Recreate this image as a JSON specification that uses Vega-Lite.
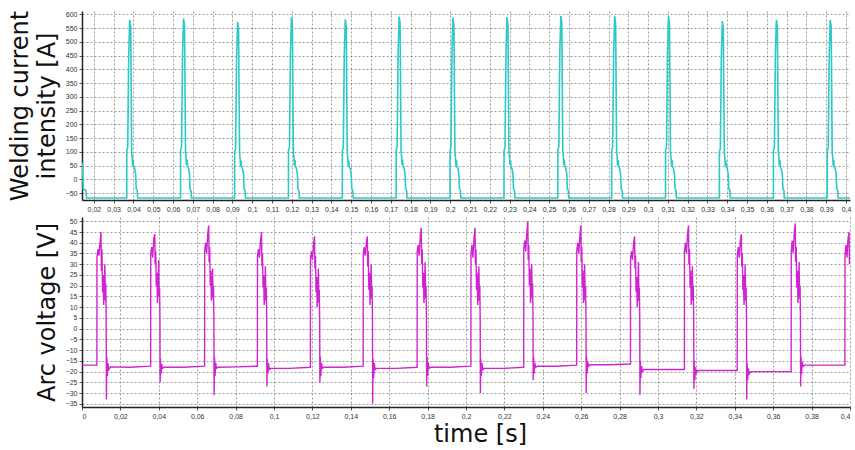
{
  "$schema": "https://vega.github.io/schema/vega-lite/v6.json",
  "background": "white",
  "padding": {"left": 8, "top": 10, "right": 4, "bottom": 2},
  "spacing": 5,
  "config": {
    "view": {"stroke": null},
    "axis": {
      "labelFont": "Liberation Sans", "labelFontSize": 7, "labelColor": "#333",
      "tickSize": 3, "tickColor": "#555", "labelPadding": 2,
      "domainColor": "#222", "domainWidth": 1.5,
      "gridColor": "#666", "gridDash": [2, 2], "gridOpacity": 0.8, "gridWidth": 0.8,
      "titleFont": "DejaVu Sans", "titleFontSize": 24, "titleFontWeight": "normal", "titleColor": "#111"
    }
  },
  "vconcat": [
    {
      "width": 768, "height": 189,
      "data": {"name": "cur"},
      "mark": {"type": "line", "color": "#2cc9c9", "strokeWidth": 1.6, "clip": true},
      "encoding": {
        "x": {"field": "t", "type": "quantitative",
          "scale": {"domain": [0.014, 0.402], "nice": false, "zero": false},
          "axis": {"title": null, "grid": true,
            "values": [0.02,0.03,0.04,0.05,0.06,0.07,0.08,0.09,0.1,0.11,0.12,0.13,0.14,0.15,0.16,0.17,0.18,0.19,0.2,0.21,0.22,0.23,0.24,0.25,0.26,0.27,0.28,0.29,0.3,0.31,0.32,0.33,0.34,0.35,0.36,0.37,0.38,0.39,0.4],
            "labelExpr": "replace(format(datum.value, '.2~f'), '.', ',')"}},
        "y": {"field": "v", "type": "quantitative",
          "scale": {"domain": [-75, 612], "nice": false},
          "axis": {"title": ["Welding current", "intensity [A]"], "titlePadding": 6, "titleLineHeight": 27, "grid": true,
            "values": [-50,0,50,100,150,200,250,300,350,400,450,500,550,600]}}
      }
    },
    {
      "width": 768, "height": 190,
      "data": {"name": "volt"},
      "mark": {"type": "line", "color": "#d024d0", "strokeWidth": 1.4, "clip": true},
      "encoding": {
        "x": {"field": "t", "type": "quantitative",
          "scale": {"domain": [0, 0.4], "nice": false, "zero": false},
          "axis": {"title": "time [s]", "titlePadding": 3, "titleX": 398, "grid": true,
            "values": [0,0.02,0.04,0.06,0.08,0.1,0.12,0.14,0.16,0.18,0.2,0.22,0.24,0.26,0.28,0.3,0.32,0.34,0.36,0.38,0.4],
            "labelExpr": "replace(format(datum.value, '.2~f'), '.', ',')"}},
        "y": {"field": "v", "type": "quantitative",
          "scale": {"domain": [-36.5, 52], "nice": false},
          "axis": {"title": "Arc voltage [V]", "titlePadding": 6, "grid": true,
            "values": [-35,-30,-25,-20,-15,-10,-5,0,5,10,15,20,25,30,35,40,45,50]}}
      }
    }
  ],
  "datasets": {
    "cur": [
      {"t":0.0140,"v":60},{"t":0.0143,"v":52},{"t":0.0146,"v":-35},{"t":0.0160,"v":-40},{"t":0.0163,"v":-68},
      {"t":0.03660,"v":-68},{"t":0.03662,"v":105},{"t":0.03710,"v":115},{"t":0.03760,"v":450},{"t":0.03810,"v":580},{"t":0.03860,"v":555},{"t":0.03910,"v":100},{"t":0.03940,"v":75},{"t":0.03960,"v":50},{"t":0.03990,"v":70},{"t":0.04010,"v":45},{"t":0.04060,"v":40},{"t":0.04110,"v":20},{"t":0.04140,"v":-35},{"t":0.04190,"v":-40},{"t":0.04210,"v":-68},
      {"t":0.06380,"v":-68},{"t":0.06382,"v":108},{"t":0.06430,"v":118},{"t":0.06480,"v":460},{"t":0.06530,"v":585},{"t":0.06580,"v":560},{"t":0.06630,"v":105},{"t":0.06660,"v":80},{"t":0.06680,"v":52},{"t":0.06710,"v":72},{"t":0.06730,"v":48},{"t":0.06780,"v":42},{"t":0.06830,"v":18},{"t":0.06860,"v":-35},{"t":0.06910,"v":-42},{"t":0.06930,"v":-68},
      {"t":0.09110,"v":-68},{"t":0.09112,"v":100},{"t":0.09160,"v":112},{"t":0.09210,"v":440},{"t":0.09260,"v":572},{"t":0.09310,"v":548},{"t":0.09360,"v":98},{"t":0.09390,"v":72},{"t":0.09410,"v":48},{"t":0.09440,"v":68},{"t":0.09460,"v":44},{"t":0.09510,"v":38},{"t":0.09560,"v":20},{"t":0.09590,"v":-36},{"t":0.09640,"v":-40},{"t":0.09660,"v":-68},
      {"t":0.11830,"v":-68},{"t":0.11832,"v":105},{"t":0.11880,"v":115},{"t":0.11930,"v":455},{"t":0.11980,"v":590},{"t":0.12030,"v":562},{"t":0.12080,"v":100},{"t":0.12110,"v":78},{"t":0.12130,"v":50},{"t":0.12160,"v":70},{"t":0.12180,"v":46},{"t":0.12230,"v":40},{"t":0.12280,"v":22},{"t":0.12310,"v":-35},{"t":0.12360,"v":-40},{"t":0.12380,"v":-68},
      {"t":0.14550,"v":-68},{"t":0.14552,"v":102},{"t":0.14600,"v":114},{"t":0.14650,"v":448},{"t":0.14700,"v":582},{"t":0.14750,"v":556},{"t":0.14800,"v":96},{"t":0.14830,"v":74},{"t":0.14850,"v":50},{"t":0.14880,"v":68},{"t":0.14900,"v":45},{"t":0.14950,"v":40},{"t":0.15000,"v":18},{"t":0.15030,"v":-34},{"t":0.15080,"v":-40},{"t":0.15100,"v":-68},
      {"t":0.17270,"v":-68},{"t":0.17272,"v":108},{"t":0.17320,"v":118},{"t":0.17370,"v":462},{"t":0.17420,"v":592},{"t":0.17470,"v":566},{"t":0.17520,"v":104},{"t":0.17550,"v":80},{"t":0.17570,"v":52},{"t":0.17600,"v":72},{"t":0.17620,"v":47},{"t":0.17670,"v":42},{"t":0.17720,"v":20},{"t":0.17750,"v":-35},{"t":0.17800,"v":-41},{"t":0.17820,"v":-68},
      {"t":0.19990,"v":-68},{"t":0.19992,"v":104},{"t":0.20040,"v":116},{"t":0.20090,"v":452},{"t":0.20140,"v":588},{"t":0.20190,"v":560},{"t":0.20240,"v":100},{"t":0.20270,"v":76},{"t":0.20290,"v":50},{"t":0.20320,"v":70},{"t":0.20340,"v":45},{"t":0.20390,"v":40},{"t":0.20440,"v":20},{"t":0.20470,"v":-35},{"t":0.20520,"v":-40},{"t":0.20540,"v":-68},
      {"t":0.22720,"v":-68},{"t":0.22722,"v":106},{"t":0.22770,"v":116},{"t":0.22820,"v":456},{"t":0.22870,"v":590},{"t":0.22920,"v":562},{"t":0.22970,"v":102},{"t":0.23000,"v":78},{"t":0.23020,"v":52},{"t":0.23050,"v":70},{"t":0.23070,"v":46},{"t":0.23120,"v":40},{"t":0.23170,"v":20},{"t":0.23200,"v":-35},{"t":0.23250,"v":-40},{"t":0.23270,"v":-68},
      {"t":0.25440,"v":-68},{"t":0.25442,"v":108},{"t":0.25490,"v":118},{"t":0.25540,"v":462},{"t":0.25590,"v":594},{"t":0.25640,"v":568},{"t":0.25690,"v":104},{"t":0.25720,"v":80},{"t":0.25740,"v":52},{"t":0.25770,"v":72},{"t":0.25790,"v":47},{"t":0.25840,"v":41},{"t":0.25890,"v":21},{"t":0.25920,"v":-35},{"t":0.25970,"v":-40},{"t":0.25990,"v":-68},
      {"t":0.28160,"v":-68},{"t":0.28162,"v":106},{"t":0.28210,"v":116},{"t":0.28260,"v":460},{"t":0.28310,"v":594},{"t":0.28360,"v":566},{"t":0.28410,"v":102},{"t":0.28440,"v":78},{"t":0.28460,"v":50},{"t":0.28490,"v":70},{"t":0.28510,"v":46},{"t":0.28560,"v":40},{"t":0.28610,"v":20},{"t":0.28640,"v":-35},{"t":0.28690,"v":-40},{"t":0.28710,"v":-68},
      {"t":0.30880,"v":-68},{"t":0.30882,"v":105},{"t":0.30930,"v":116},{"t":0.30980,"v":458},{"t":0.31030,"v":594},{"t":0.31080,"v":565},{"t":0.31130,"v":100},{"t":0.31160,"v":76},{"t":0.31180,"v":50},{"t":0.31210,"v":70},{"t":0.31230,"v":45},{"t":0.31280,"v":40},{"t":0.31330,"v":20},{"t":0.31360,"v":-35},{"t":0.31410,"v":-40},{"t":0.31430,"v":-68},
      {"t":0.33600,"v":-68},{"t":0.33602,"v":102},{"t":0.33650,"v":112},{"t":0.33700,"v":445},{"t":0.33750,"v":575},{"t":0.33800,"v":550},{"t":0.33850,"v":98},{"t":0.33880,"v":74},{"t":0.33900,"v":48},{"t":0.33930,"v":68},{"t":0.33950,"v":44},{"t":0.34000,"v":38},{"t":0.34050,"v":18},{"t":0.34080,"v":-35},{"t":0.34130,"v":-40},{"t":0.34150,"v":-68},
      {"t":0.36330,"v":-68},{"t":0.36332,"v":104},{"t":0.36380,"v":114},{"t":0.36430,"v":450},{"t":0.36480,"v":580},{"t":0.36530,"v":555},{"t":0.36580,"v":100},{"t":0.36610,"v":76},{"t":0.36630,"v":50},{"t":0.36660,"v":70},{"t":0.36680,"v":45},{"t":0.36730,"v":40},{"t":0.36780,"v":20},{"t":0.36810,"v":-35},{"t":0.36860,"v":-40},{"t":0.36880,"v":-68},
      {"t":0.39050,"v":-68},{"t":0.39052,"v":105},{"t":0.39100,"v":115},{"t":0.39150,"v":450},{"t":0.39200,"v":580},{"t":0.39250,"v":556},{"t":0.39300,"v":100},{"t":0.39330,"v":76},{"t":0.39350,"v":50},{"t":0.39380,"v":70},{"t":0.39400,"v":45},{"t":0.39450,"v":40},{"t":0.39500,"v":20},{"t":0.39530,"v":-35},{"t":0.39580,"v":-40},{"t":0.39600,"v":-68},
      {"t":0.40200,"v":-68}
    ],
    "volt": [
      {"t":0.00000,"v":-17},{"t":0.00775,"v":-17},
      {"t":0.00780,"v":33},{"t":0.00830,"v":37},{"t":0.00880,"v":34},{"t":0.00940,"v":40},{"t":0.00990,"v":45},{"t":0.01010,"v":27},{"t":0.01040,"v":37},{"t":0.01070,"v":17},{"t":0.01100,"v":25},{"t":0.01130,"v":11},{"t":0.01160,"v":18},{"t":0.01190,"v":30},{"t":0.01220,"v":13},{"t":0.01240,"v":21},{"t":0.01260,"v":3},{"t":0.01270,"v":-33},{"t":0.01290,"v":-13},{"t":0.01320,"v":-22},{"t":0.01350,"v":-16},{"t":0.01400,"v":-19},{"t":0.01480,"v":-17.8},{"t":0.02500,"v":-18},{"t":0.03575,"v":-17.5},
      {"t":0.03580,"v":35},{"t":0.03630,"v":38},{"t":0.03680,"v":33},{"t":0.03740,"v":42},{"t":0.03790,"v":44},{"t":0.03810,"v":30},{"t":0.03840,"v":36},{"t":0.03870,"v":20},{"t":0.03900,"v":26},{"t":0.03930,"v":12},{"t":0.03960,"v":19},{"t":0.03990,"v":32},{"t":0.04020,"v":15},{"t":0.04040,"v":19},{"t":0.04060,"v":5},{"t":0.04070,"v":-25},{"t":0.04090,"v":-14},{"t":0.04120,"v":-21},{"t":0.04150,"v":-16.5},{"t":0.04200,"v":-18.5},{"t":0.04280,"v":-18},{"t":0.05300,"v":-18},{"t":0.06385,"v":-17.5},
      {"t":0.06390,"v":36},{"t":0.06440,"v":40},{"t":0.06490,"v":35},{"t":0.06550,"v":44},{"t":0.06600,"v":48},{"t":0.06620,"v":31},{"t":0.06650,"v":38},{"t":0.06680,"v":20},{"t":0.06710,"v":27},{"t":0.06740,"v":13},{"t":0.06770,"v":18},{"t":0.06800,"v":28},{"t":0.06830,"v":14},{"t":0.06850,"v":20},{"t":0.06870,"v":3},{"t":0.06880,"v":-31},{"t":0.06900,"v":-13},{"t":0.06930,"v":-22},{"t":0.06960,"v":-16},{"t":0.07010,"v":-18.5},{"t":0.07090,"v":-18},{"t":0.08100,"v":-17.8},{"t":0.09135,"v":-17.5},
      {"t":0.09140,"v":34},{"t":0.09190,"v":37},{"t":0.09240,"v":33},{"t":0.09300,"v":41},{"t":0.09350,"v":45},{"t":0.09370,"v":29},{"t":0.09400,"v":35},{"t":0.09430,"v":19},{"t":0.09460,"v":25},{"t":0.09490,"v":11},{"t":0.09520,"v":17},{"t":0.09550,"v":29},{"t":0.09580,"v":13},{"t":0.09600,"v":19},{"t":0.09620,"v":4},{"t":0.09630,"v":-27},{"t":0.09650,"v":-14},{"t":0.09680,"v":-21},{"t":0.09710,"v":-16},{"t":0.09760,"v":-19},{"t":0.09840,"v":-18.5},{"t":0.10800,"v":-18.5},{"t":0.11895,"v":-18},
      {"t":0.11900,"v":33},{"t":0.11950,"v":36},{"t":0.12000,"v":32},{"t":0.12060,"v":39},{"t":0.12110,"v":43},{"t":0.12130,"v":28},{"t":0.12160,"v":34},{"t":0.12190,"v":17},{"t":0.12220,"v":24},{"t":0.12250,"v":10},{"t":0.12280,"v":16},{"t":0.12310,"v":28},{"t":0.12340,"v":12},{"t":0.12360,"v":18},{"t":0.12380,"v":2},{"t":0.12390,"v":-25},{"t":0.12410,"v":-13},{"t":0.12440,"v":-22},{"t":0.12470,"v":-16},{"t":0.12520,"v":-18.5},{"t":0.12600,"v":-18},{"t":0.13600,"v":-18},{"t":0.14645,"v":-17.5},
      {"t":0.14650,"v":35},{"t":0.14700,"v":38},{"t":0.14750,"v":34},{"t":0.14810,"v":40},{"t":0.14860,"v":43},{"t":0.14880,"v":29},{"t":0.14910,"v":36},{"t":0.14940,"v":18},{"t":0.14970,"v":26},{"t":0.15000,"v":11},{"t":0.15030,"v":18},{"t":0.15060,"v":30},{"t":0.15090,"v":14},{"t":0.15110,"v":20},{"t":0.15130,"v":4},{"t":0.15140,"v":-35},{"t":0.15160,"v":-14},{"t":0.15190,"v":-23},{"t":0.15220,"v":-16},{"t":0.15270,"v":-19},{"t":0.15350,"v":-18.5},{"t":0.16400,"v":-18.5},{"t":0.17455,"v":-18},
      {"t":0.17460,"v":36},{"t":0.17510,"v":39},{"t":0.17560,"v":34},{"t":0.17620,"v":43},{"t":0.17670,"v":47},{"t":0.17690,"v":30},{"t":0.17720,"v":37},{"t":0.17750,"v":19},{"t":0.17780,"v":26},{"t":0.17810,"v":12},{"t":0.17840,"v":18},{"t":0.17870,"v":31},{"t":0.17900,"v":14},{"t":0.17920,"v":20},{"t":0.17940,"v":4},{"t":0.17950,"v":-27},{"t":0.17970,"v":-13},{"t":0.18000,"v":-22},{"t":0.18030,"v":-16},{"t":0.18080,"v":-18.5},{"t":0.18160,"v":-18},{"t":0.19200,"v":-18},{"t":0.20255,"v":-17.5},
      {"t":0.20260,"v":35},{"t":0.20310,"v":39},{"t":0.20360,"v":33},{"t":0.20420,"v":42},{"t":0.20470,"v":47},{"t":0.20490,"v":30},{"t":0.20520,"v":37},{"t":0.20550,"v":18},{"t":0.20580,"v":26},{"t":0.20610,"v":11},{"t":0.20640,"v":17},{"t":0.20670,"v":29},{"t":0.20700,"v":13},{"t":0.20720,"v":20},{"t":0.20740,"v":3},{"t":0.20750,"v":-30},{"t":0.20770,"v":-14},{"t":0.20800,"v":-22},{"t":0.20830,"v":-16},{"t":0.20880,"v":-19},{"t":0.20960,"v":-18.5},{"t":0.22000,"v":-18.5},{"t":0.23005,"v":-18},
      {"t":0.23010,"v":37},{"t":0.23060,"v":41},{"t":0.23110,"v":36},{"t":0.23170,"v":45},{"t":0.23220,"v":50},{"t":0.23240,"v":32},{"t":0.23270,"v":39},{"t":0.23300,"v":20},{"t":0.23330,"v":28},{"t":0.23360,"v":12},{"t":0.23390,"v":19},{"t":0.23420,"v":30},{"t":0.23450,"v":14},{"t":0.23470,"v":21},{"t":0.23490,"v":5},{"t":0.23500,"v":-24},{"t":0.23520,"v":-13},{"t":0.23550,"v":-21},{"t":0.23580,"v":-16},{"t":0.23630,"v":-18},{"t":0.23710,"v":-17.5},{"t":0.24700,"v":-17.5},{"t":0.25765,"v":-17},
      {"t":0.25770,"v":36},{"t":0.25820,"v":40},{"t":0.25870,"v":35},{"t":0.25930,"v":43},{"t":0.25980,"v":48},{"t":0.26000,"v":31},{"t":0.26030,"v":38},{"t":0.26060,"v":19},{"t":0.26090,"v":27},{"t":0.26120,"v":12},{"t":0.26150,"v":18},{"t":0.26180,"v":30},{"t":0.26210,"v":13},{"t":0.26230,"v":20},{"t":0.26250,"v":4},{"t":0.26260,"v":-30},{"t":0.26280,"v":-13},{"t":0.26310,"v":-21},{"t":0.26340,"v":-15.5},{"t":0.26390,"v":-17.5},{"t":0.26470,"v":-16.8},{"t":0.27500,"v":-16.8},{"t":0.28565,"v":-16.5},
      {"t":0.28570,"v":33},{"t":0.28620,"v":36},{"t":0.28670,"v":32},{"t":0.28730,"v":40},{"t":0.28780,"v":43},{"t":0.28800,"v":28},{"t":0.28830,"v":34},{"t":0.28860,"v":17},{"t":0.28890,"v":24},{"t":0.28920,"v":10},{"t":0.28950,"v":17},{"t":0.28980,"v":31},{"t":0.29010,"v":13},{"t":0.29030,"v":19},{"t":0.29050,"v":4},{"t":0.29060,"v":-31},{"t":0.29080,"v":-15},{"t":0.29110,"v":-23},{"t":0.29140,"v":-17.5},{"t":0.29190,"v":-20},{"t":0.29270,"v":-19},{"t":0.30300,"v":-19},{"t":0.31375,"v":-19},
      {"t":0.31380,"v":36},{"t":0.31430,"v":40},{"t":0.31480,"v":35},{"t":0.31540,"v":44},{"t":0.31590,"v":48},{"t":0.31610,"v":30},{"t":0.31640,"v":37},{"t":0.31670,"v":19},{"t":0.31700,"v":27},{"t":0.31730,"v":11},{"t":0.31760,"v":18},{"t":0.31790,"v":29},{"t":0.31820,"v":13},{"t":0.31840,"v":20},{"t":0.31860,"v":3},{"t":0.31870,"v":-28},{"t":0.31890,"v":-15},{"t":0.31920,"v":-24},{"t":0.31950,"v":-18},{"t":0.32000,"v":-20.5},{"t":0.32080,"v":-19.5},{"t":0.33100,"v":-19.5},{"t":0.34125,"v":-19.5},
      {"t":0.34130,"v":34},{"t":0.34180,"v":38},{"t":0.34230,"v":33},{"t":0.34290,"v":41},{"t":0.34340,"v":44},{"t":0.34360,"v":29},{"t":0.34390,"v":35},{"t":0.34420,"v":18},{"t":0.34450,"v":25},{"t":0.34480,"v":11},{"t":0.34510,"v":17},{"t":0.34540,"v":30},{"t":0.34570,"v":13},{"t":0.34590,"v":19},{"t":0.34610,"v":4},{"t":0.34620,"v":-33},{"t":0.34640,"v":-16},{"t":0.34670,"v":-24},{"t":0.34700,"v":-18.5},{"t":0.34750,"v":-21},{"t":0.34830,"v":-20},{"t":0.35800,"v":-20},{"t":0.36935,"v":-20},
      {"t":0.36940,"v":36},{"t":0.36990,"v":41},{"t":0.37040,"v":35},{"t":0.37100,"v":45},{"t":0.37150,"v":49},{"t":0.37170,"v":31},{"t":0.37200,"v":38},{"t":0.37230,"v":19},{"t":0.37260,"v":27},{"t":0.37290,"v":12},{"t":0.37320,"v":18},{"t":0.37350,"v":31},{"t":0.37380,"v":14},{"t":0.37400,"v":20},{"t":0.37420,"v":4},{"t":0.37430,"v":-27},{"t":0.37450,"v":-13},{"t":0.37480,"v":-21},{"t":0.37510,"v":-15.5},{"t":0.37560,"v":-17.5},{"t":0.37640,"v":-17},{"t":0.38600,"v":-17},{"t":0.39735,"v":-17},
      {"t":0.39740,"v":34},{"t":0.39790,"v":39},{"t":0.39840,"v":33},{"t":0.39900,"v":42},{"t":0.39950,"v":45},{"t":0.39970,"v":30},{"t":0.40000,"v":36}
    ]
  }
}
